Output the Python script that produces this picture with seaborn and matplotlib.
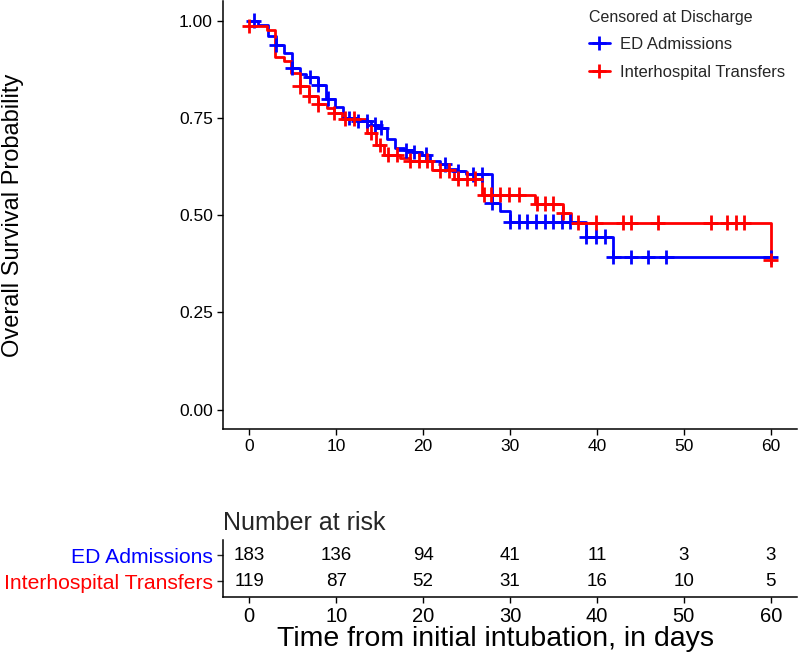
import numpy as np
import pandas as pd
import matplotlib
matplotlib.use('Agg')
import matplotlib.pyplot as plt
from matplotlib.lines import Line2D
import seaborn as sns

# Kaplan-Meier step values (time of drop, survival after drop)
ed_times = [0, 1, 2.1, 3.1, 4, 4.9, 5.8, 6.5, 7.9, 8.8, 9.9, 10.8, 12.5, 14, 14.8, 15.9, 16.8,
            17.8, 18.8, 19.9, 20.8, 22, 22.9, 23.9, 24.9, 27.9, 28.9, 30, 38.8, 41.9, 60]
ed_surv = [1.0, 0.99, 0.96, 0.938, 0.917, 0.878, 0.862, 0.855, 0.836, 0.80, 0.777, 0.75, 0.742,
           0.733, 0.725, 0.695, 0.673, 0.667, 0.662, 0.656, 0.64, 0.631, 0.618, 0.614, 0.605,
           0.532, 0.511, 0.483, 0.445, 0.392, 0.392]
ed_censor = [0.5, 3.1, 4.9, 7, 7.9, 9.1, 11.5, 12.5, 13.5, 14.5, 15.2, 18, 19, 20.3, 22.5, 24,
             25.8, 26.8, 27.9, 30, 31, 32, 33, 34, 35, 36, 36.9, 38.8, 39.9, 40.9, 41.9, 43.9,
             45.9, 48, 60]

ih_times = [0, 2, 3, 4, 4.8, 5.8, 6.9, 7.9, 9.0, 9.8, 10.7, 13.6, 14.6, 15.5, 17.4, 18.5, 21,
            23.5, 26.8, 32.9, 36.1, 37, 60]
ih_surv = [0.987, 0.975, 0.908, 0.897, 0.866, 0.831, 0.806, 0.785, 0.775, 0.763, 0.748, 0.712,
           0.68, 0.656, 0.646, 0.64, 0.615, 0.594, 0.553, 0.53, 0.506, 0.481, 0.385]
ih_censor = [0, 5.8, 6.9, 7.9, 9.8, 11, 12, 14, 15, 16, 17, 18.5, 19.5, 20.5, 22, 23, 24, 25,
             26, 27, 27.8, 28.9, 29.9, 31, 33.1, 34, 35, 36.1, 37.8, 39.9, 43, 43.9, 47, 53.1,
             55, 56, 56.9, 60]

risk_times = [0, 10, 20, 30, 40, 50, 60]
ed_risk = [183, 136, 94, 41, 11, 3, 3]
ih_risk = [119, 87, 52, 31, 16, 10, 5]

groups = ['ED Admissions', 'Interhospital Transfers']
colors = {'ED Admissions': '#0000FF', 'Interhospital Transfers': '#FF0000'}


def surv_at(times, surv, t):
    i = np.searchsorted(times, t, side='right') - 1
    return surv[max(i, 0)]


curve_df = pd.concat([
    pd.DataFrame({'time': ed_times, 'surv': ed_surv, 'group': groups[0]}),
    pd.DataFrame({'time': ih_times, 'surv': ih_surv, 'group': groups[1]}),
], ignore_index=True)

censor_df = pd.concat([
    pd.DataFrame({'time': ed_censor, 'surv': [surv_at(ed_times, ed_surv, t) for t in ed_censor],
                  'group': groups[0]}),
    pd.DataFrame({'time': ih_censor, 'surv': [surv_at(ih_times, ih_surv, t) for t in ih_censor],
                  'group': groups[1]}),
], ignore_index=True)

sns.set_theme(style='ticks')
plt.rcParams['font.family'] = ['Liberation Sans', 'DejaVu Sans']

fig = plt.figure(figsize=(8, 6.55), dpi=100)
ax = fig.add_axes([0.279, 0.345, 0.717, 0.653])
ax_tab = fig.add_axes([0.279, 0.0885, 0.717, 0.0875])

# survival curves
sns.lineplot(data=curve_df, x='time', y='surv', hue='group', palette=colors, estimator=None,
             sort=False, units='group', drawstyle='steps-post', linewidth=2, legend=False, ax=ax)
sns.scatterplot(data=censor_df, x='time', y='surv', hue='group', palette=colors, marker='+',
                s=110, linewidth=2, legend=False, ax=ax, zorder=3)

ax.set_xlim(-3, 63)
ax.set_ylim(-0.05, 1.05)
ax.set_xticks(risk_times)
ax.set_yticks([0, 0.25, 0.5, 0.75, 1.0])
ax.set_yticklabels(['0.00', '0.25', '0.50', '0.75', '1.00'])
ax.set_xlabel('')
ax.set_ylabel('Overall Survival Probability', fontsize=17, color='black')
ax.yaxis.set_label_coords(-0.347, 0.5)
ax.tick_params(labelsize=12.5, colors='black', length=4, width=1)
for s in ['left', 'bottom']:
    ax.spines[s].set_color('black')
    ax.spines[s].set_linewidth(1.1)
sns.despine(ax=ax)

handles = [Line2D([], [], color=colors[g], lw=2, marker='+', markersize=10, mew=2) for g in groups]
leg = fig.legend(handles, groups, title='Censored at Discharge', loc='upper left',
                 bbox_to_anchor=(0.717, 1.008), frameon=False, fontsize=12,
                 title_fontsize=11.5, handlelength=1.3, handletextpad=0.6,
                 labelspacing=0.75, alignment='left')

# number at risk table
for row, (g, vals) in enumerate(zip(groups, [ed_risk, ih_risk])):
    ypos = 2 - row
    for t, v in zip(risk_times, vals):
        ax_tab.text(t, ypos, str(v), ha='center', va='center', fontsize=13.5, color='black')

ax_tab.set_xlim(-3, 63)
ax_tab.set_ylim(0.4, 2.6)
ax_tab.set_xticks(risk_times)
ax_tab.set_yticks([2, 1])
ax_tab.set_yticklabels(groups, fontsize=15.2)
for lbl, g in zip(ax_tab.get_yticklabels(), groups):
    lbl.set_color(colors[g])
ax_tab.tick_params(axis='x', labelsize=14.5, colors='black', length=4, width=1)
ax_tab.tick_params(axis='y', length=4, width=1)
ax_tab.set_xlabel('Time from initial intubation, in days', fontsize=20.5, color='black',
                  labelpad=0)
ax_tab.xaxis.label.set_x(0.474)
ax_tab.set_title('Number at risk', loc='left', fontsize=18, pad=7)
for s in ['left', 'bottom']:
    ax_tab.spines[s].set_color('black')
    ax_tab.spines[s].set_linewidth(1.1)
sns.despine(ax=ax_tab)

fig.savefig('out.png', dpi=100)
